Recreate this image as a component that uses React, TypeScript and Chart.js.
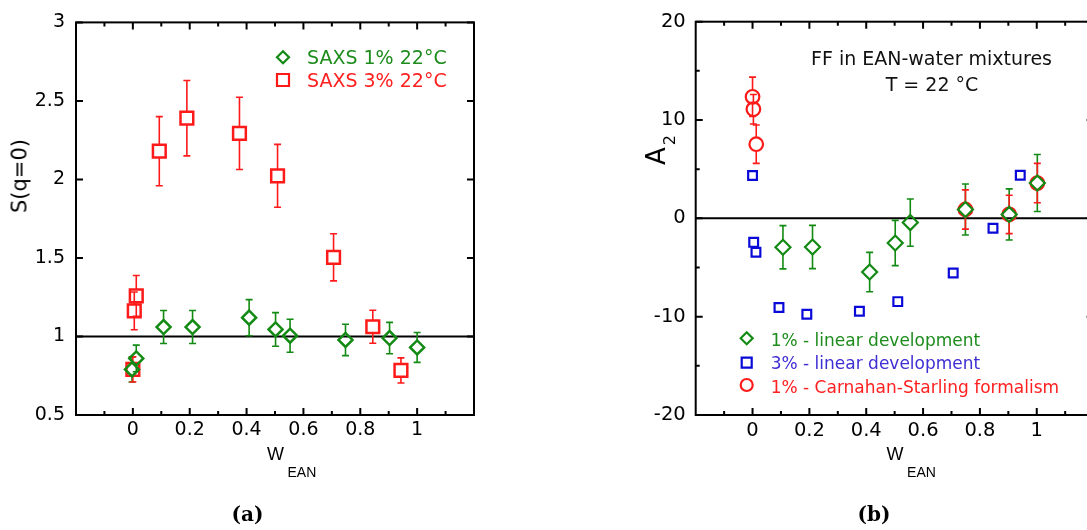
import React, { useEffect, useRef } from 'react';
import { Chart, registerables } from 'chart.js';

Chart.register(...registerables);
Chart.defaults.font.family = 'DejaVu Sans';

// ---------- Panel (a): S(q=0) vs W_EAN ----------
const saxs1X = [-0.003, 0.012, 0.108, 0.21, 0.409, 0.502, 0.553, 0.748, 0.903, 1.0];
const saxs1Y = [0.79, 0.86, 1.06, 1.06, 1.12, 1.045, 1.005, 0.978, 0.99, 0.93];
const saxs1Err = [0.08, 0.085, 0.105, 0.105, 0.115, 0.107, 0.105, 0.1, 0.1, 0.095];

const saxs3X = [0.0, 0.005, 0.012, 0.093, 0.19, 0.375, 0.509, 0.706, 0.844, 0.943];
const saxs3Y = [0.79, 1.163, 1.258, 2.18, 2.39, 2.293, 2.023, 1.504, 1.062, 0.784];
const saxs3Err = [0.08, 0.12, 0.13, 0.22, 0.24, 0.23, 0.2, 0.15, 0.105, 0.08];

const aXTicks = [0, 0.2, 0.4, 0.6, 0.8, 1];
const aXMinor = [-0.1, 0.1, 0.3, 0.5, 0.7, 0.9, 1.1];
const aYTicks = [0.5, 1, 1.5, 2, 2.5, 3];

// ---------- Panel (b): A2 vs W_EAN ----------
const lin1X = [0.107, 0.211, 0.412, 0.502, 0.555, 0.749, 0.903, 1.002];
const lin1Y = [-2.94, -2.91, -5.46, -2.51, -0.43, 0.9, 0.4, 3.59];
const lin1Err = [2.2, 2.2, 2.0, 2.3, 2.4, 2.6, 2.6, 2.9];

const lin3X = [0.0, 0.004, 0.012, 0.093, 0.191, 0.376, 0.511, 0.706, 0.846, 0.942];
const lin3Y = [4.36, -2.44, -3.45, -9.07, -9.75, -9.45, -8.47, -5.56, -1.0, 4.39];

const csX = [0.0, 0.003, 0.013, 0.749, 0.903, 1.002];
const csY = [12.36, 11.1, 7.54, 0.9, 0.4, 3.59];
const csErr = [2.0, 1.5, 1.95, 2.0, 1.95, 2.0];

const bXTicks = [0, 0.2, 0.4, 0.6, 0.8, 1];
const bXMinor = [-0.1, 0.1, 0.3, 0.5, 0.7, 0.9, 1.1];
const bYTicks = [-20, -10, 0, 10, 20];
const bYMinor = [-15, -5, 5, 15];

const GREEN = '#138a13';
const RED = '#ff1a1a';
const BLUE = '#0a0ad8';
const GREEN_TXT = '#1d8c1d';
const RED_TXT = '#ff2020';
const BLUE_TXT = '#3f2ed2';

type LegendItem = {
  shape: 'diamond' | 'square' | 'circle';
  color: string; textColor: string; label: string;
  mx: number; my: number; tx: number; ty: number; size: number; font: string;
};
type TextItem = { text: string; x: number; y: number; font: string; color: string };
type Decor = {
  xMajor: number[]; xMinor: number[]; yMajor: number[]; yMinor: number[];
  refY: number; errors: (number[] | null)[]; gaps: number[];
  legend: LegendItem[]; texts: TextItem[];
};

function drawShape(ctx: CanvasRenderingContext2D, shape: string, x: number, y: number, s: number) {
  ctx.beginPath();
  if (shape === 'diamond') {
    ctx.moveTo(x - s, y); ctx.lineTo(x, y - s); ctx.lineTo(x + s, y); ctx.lineTo(x, y + s); ctx.closePath();
  } else if (shape === 'square') {
    ctx.rect(x - s, y - s, 2 * s, 2 * s);
  } else {
    ctx.arc(x, y, s, 0, Math.PI * 2);
  }
  ctx.stroke();
}

function decorPlugin(d: Decor) {
  return {
    id: 'decor',
    beforeDatasetsDraw(chart: any) {
      const ctx: CanvasRenderingContext2D = chart.ctx;
      const { left, right } = chart.chartArea;
      const ys = chart.scales.y;
      ctx.save();
      ctx.strokeStyle = '#000';
      ctx.lineWidth = 2;
      const ry = ys.getPixelForValue(d.refY);
      ctx.beginPath(); ctx.moveTo(left, ry); ctx.lineTo(right, ry); ctx.stroke();
      chart.data.datasets.forEach((ds: any, i: number) => {
        const err = d.errors[i];
        if (!err) return;
        const meta = chart.getDatasetMeta(i);
        ctx.strokeStyle = ds.borderColor;
        ctx.lineWidth = 1.6;
        meta.data.forEach((pt: any, j: number) => {
          const e = err[j];
          const v = ds.data[j].y;
          const x = pt.x, yc = pt.y;
          const yt = ys.getPixelForValue(v + e);
          const yb = ys.getPixelForValue(v - e);
          const g = d.gaps[i];
          ctx.beginPath();
          if (yc - g > yt) { ctx.moveTo(x, yc - g); ctx.lineTo(x, yt); }
          if (yc + g < yb) { ctx.moveTo(x, yc + g); ctx.lineTo(x, yb); }
          ctx.moveTo(x - 3.5, yt); ctx.lineTo(x + 3.5, yt);
          ctx.moveTo(x - 3.5, yb); ctx.lineTo(x + 3.5, yb);
          ctx.stroke();
        });
      });
      ctx.restore();
    },
    afterDatasetsDraw(chart: any) {
      const ctx: CanvasRenderingContext2D = chart.ctx;
      const { left, right, top, bottom } = chart.chartArea;
      const xs = chart.scales.x, ys = chart.scales.y;
      ctx.save();
      ctx.strokeStyle = '#000';
      ctx.lineWidth = 2;
      ctx.strokeRect(left, top, right - left, bottom - top);
      const tick = (vals: number[], len: number, horiz: boolean) => {
        vals.forEach(v => {
          ctx.beginPath();
          if (horiz) {
            const px = xs.getPixelForValue(v);
            ctx.moveTo(px, bottom); ctx.lineTo(px, bottom - len);
            ctx.moveTo(px, top); ctx.lineTo(px, top + len);
          } else {
            const py = ys.getPixelForValue(v);
            ctx.moveTo(left, py); ctx.lineTo(left + len, py);
            ctx.moveTo(right, py); ctx.lineTo(right - len, py);
          }
          ctx.stroke();
        });
      };
      tick(d.xMajor, 7, true);
      tick(d.xMinor, 4, true);
      tick(d.yMajor, 7, false);
      tick(d.yMinor, 4, false);
      d.legend.forEach(it => {
        ctx.strokeStyle = it.color;
        ctx.lineWidth = 2.2;
        drawShape(ctx, it.shape, it.mx, it.my, it.size);
        ctx.fillStyle = it.textColor;
        ctx.font = it.font;
        ctx.textAlign = 'left';
        ctx.textBaseline = 'alphabetic';
        ctx.fillText(it.label, it.tx, it.ty);
      });
      d.texts.forEach(t => {
        ctx.fillStyle = t.color;
        ctx.font = t.font;
        ctx.textAlign = 'center';
        ctx.textBaseline = 'alphabetic';
        ctx.fillText(t.text, t.x, t.y);
      });
      ctx.restore();
    },
  };
}

function pts(xs: number[], ys: number[]) {
  return xs.map((x, i) => ({ x, y: ys[i] }));
}

function axisOpts(min: number, max: number, ticks: number[], size: number, fit: (s: any) => void, padding: number) {
  return {
    type: 'linear' as const,
    min, max,
    afterBuildTicks: (axis: any) => { axis.ticks = ticks.map(v => ({ value: v })); },
    afterFit: fit,
    grid: { display: false, drawTicks: false },
    border: { display: false },
    ticks: {
      color: '#000',
      font: { size, family: 'DejaVu Sans' },
      padding,
      maxRotation: 0,
      autoSkip: false,
      callback: (v: any) => String(v),
    },
  };
}

function configA() {
  return {
    type: 'scatter' as const,
    data: {
      datasets: [
        { label: 'SAXS 1% 22°C', data: pts(saxs1X, saxs1Y), pointStyle: 'rectRot', pointRadius: 7, borderColor: GREEN, backgroundColor: 'rgba(0,0,0,0)', borderWidth: 2.5 },
        { label: 'SAXS 3% 22°C', data: pts(saxs3X, saxs3Y), pointStyle: 'rect', pointRadius: 9, borderColor: RED, backgroundColor: 'rgba(0,0,0,0)', borderWidth: 2.5 },
      ],
    },
    options: {
      animation: false as const,
      responsive: false,
      events: [],
      layout: { padding: { left: 0, top: 19, right: 86, bottom: 75 } },
      plugins: { legend: { display: false }, tooltip: { enabled: false } },
      scales: {
        x: axisOpts(-0.2, 1.2, aXTicks, 19, (s: any) => { s.height = 40; }, 4),
        y: axisOpts(0.5, 3, aYTicks, 19, (s: any) => { s.width = 76; }, 11),
      },
    },
    plugins: [decorPlugin({
      xMajor: aXTicks, xMinor: aXMinor, yMajor: aYTicks, yMinor: [],
      refY: 1, errors: [saxs1Err, saxs3Err], gaps: [7, 6.4],
      legend: [
        { shape: 'diamond', color: GREEN, textColor: GREEN_TXT, label: 'SAXS 1% 22°C', mx: 283, my: 57.3, tx: 307, ty: 64.4, size: 6, font: '19px "DejaVu Sans"' },
        { shape: 'square', color: RED, textColor: RED_TXT, label: 'SAXS 3% 22°C', mx: 283, my: 80, tx: 307, ty: 87.4, size: 6, font: '19px "DejaVu Sans"' },
      ],
      texts: [],
    })],
  };
}

function configB() {
  return {
    type: 'scatter' as const,
    data: {
      datasets: [
        { label: '3% - linear development', data: pts(lin3X, lin3Y), pointStyle: 'rect', pointRadius: 6.2, borderColor: BLUE, backgroundColor: 'rgba(0,0,0,0)', borderWidth: 2.2 },
        { label: '1% - linear development', data: pts(lin1X, lin1Y), pointStyle: 'rectRot', pointRadius: 7.5, borderColor: GREEN, backgroundColor: 'rgba(0,0,0,0)', borderWidth: 2.2 },
        { label: '1% - Carnahan-Starling formalism', data: pts(csX, csY), pointStyle: 'circle', pointRadius: 6.8, borderColor: RED, backgroundColor: 'rgba(0,0,0,0)', borderWidth: 2.2 },
      ],
    },
    options: {
      animation: false as const,
      responsive: false,
      events: [],
      layout: { padding: { left: 0, top: 17, right: 26.4, bottom: 75 } },
      plugins: { legend: { display: false }, tooltip: { enabled: false } },
      scales: {
        x: axisOpts(-0.2, 1.2, bXTicks, 19.5, (s: any) => { s.height = 40; }, 4),
        y: axisOpts(-20, 20, bYTicks, 19.5, (s: any) => { s.width = 115.7; }, 10),
      },
    },
    plugins: [decorPlugin({
      xMajor: bXTicks, xMinor: bXMinor, yMajor: bYTicks, yMinor: bYMinor,
      refY: 0, errors: [null, lin1Err, csErr], gaps: [4.4, 7.5, 6.8],
      legend: [
        { shape: 'diamond', color: GREEN, textColor: GREEN_TXT, label: '1% - linear development', mx: 166.7, my: 338.3, tx: 190.7, ty: 346, size: 6, font: '17px "DejaVu Sans"' },
        { shape: 'square', color: BLUE, textColor: BLUE_TXT, label: '3% - linear development', mx: 166.7, my: 362.7, tx: 190.7, ty: 369.3, size: 5, font: '17px "DejaVu Sans"' },
        { shape: 'circle', color: RED, textColor: RED_TXT, label: '1% - Carnahan-Starling formalism', mx: 166.7, my: 385, tx: 190.7, ty: 392.7, size: 6, font: '17px "DejaVu Sans"' },
      ],
      texts: [
        { text: 'FF in EAN-water mixtures', x: 351.5, y: 65, font: '19px "DejaVu Sans"', color: '#111' },
        { text: 'T = 22 °C', x: 352, y: 90.7, font: '19px "DejaVu Sans"', color: '#111' },
      ],
    })],
  };
}

function ChartCanvas({ make, left, width, height }: { make: () => any; left: number; width: number; height: number }) {
  const ref = useRef<HTMLCanvasElement>(null);
  useEffect(() => {
    const chart = new Chart(ref.current as HTMLCanvasElement, make());
    return () => chart.destroy();
  }, []);
  return <canvas ref={ref} width={width} height={height} style={{ position: 'absolute', left, top: 0, width, height }} />;
}

const abs = (s: React.CSSProperties): React.CSSProperties => ({ position: 'absolute', whiteSpace: 'nowrap', lineHeight: 1, ...s });

export default function App() {
  return (
    <div style={{ position: 'absolute', left: 0, top: 0, width: 1087, height: 530, overflow: 'hidden', background: '#fff' }}>
      <ChartCanvas make={configA} left={0} width={560} height={530} />
      <ChartCanvas make={configB} left={580} width={540} height={530} />

      <div style={abs({ left: 20, top: 176, transform: 'translate(-50%, -50%) rotate(-90deg)', fontFamily: '"DejaVu Sans"', fontSize: 21, color: '#000' })}>S(q=0)</div>

      <div style={abs({ left: 267, top: 444.8, fontFamily: '"Liberation Sans"', fontSize: 18, color: '#000' })}>W</div>
      <div style={abs({ left: 287.5, top: 465.2, fontFamily: '"Liberation Sans"', fontSize: 14, color: '#000' })}>EAN</div>

      <div style={abs({ left: 886.6, top: 444.8, fontFamily: '"Liberation Sans"', fontSize: 18, color: '#000' })}>W</div>
      <div style={abs({ left: 907.1, top: 465.2, fontFamily: '"Liberation Sans"', fontSize: 14, color: '#000' })}>EAN</div>

      <div style={abs({ left: 656, top: 150, transform: 'translate(-50%, -50%) rotate(-90deg)', fontFamily: '"DejaVu Sans"', fontSize: 26, color: '#000' })}>
        A<span style={{ fontSize: 16, position: 'relative', top: 10, marginLeft: 2 }}>2</span>
      </div>

      <div style={abs({ left: 247.5, top: 503.5, transform: 'translateX(-50%)', fontFamily: '"DejaVu Serif"', fontWeight: 'bold', fontSize: 20, color: '#000' })}>(a)</div>
      <div style={abs({ left: 874, top: 503.5, transform: 'translateX(-50%)', fontFamily: '"DejaVu Serif"', fontWeight: 'bold', fontSize: 20, color: '#000' })}>(b)</div>
    </div>
  );
}
